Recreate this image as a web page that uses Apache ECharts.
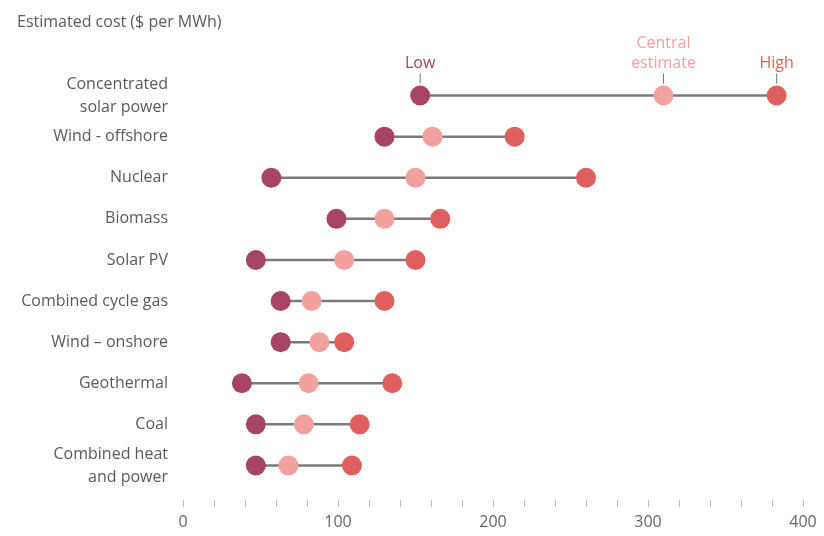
<!DOCTYPE html>
<html><head><meta charset="utf-8">
<script src="https://cdn.jsdelivr.net/npm/echarts@6/dist/echarts.min.js"></script>
<style>html,body{margin:0;padding:0;background:#fff}#c{width:824px;height:536px}</style>
</head><body><div id="c"></div>
<script>
const categories = ["Concentrated\nsolar power","Wind - offshore","Nuclear","Biomass","Solar PV","Combined cycle gas","Wind \u2013 onshore","Geothermal","Coal","Combined heat\nand power"];
const lowValues     = [153, 130, 57, 99, 47, 63, 63, 38, 47, 47];
const centralValues = [310, 161, 150, 130, 104, 83, 88, 81, 78, 68];
const highValues    = [383, 214, 260, 166, 150, 130, 104, 135, 114, 109];
const xTicks = [0, 100, 200, 300, 400];
const seriesNames = ["Low", "Central\nestimate", "High"];
const colors = ["#a84463", "#f2a19f", "#de5f5d"];

const chart = echarts.init(document.getElementById('c'));
const font = '"Open Sans", Lato, sans-serif';

function scatter(name, vals, color) {
  return {
    type: 'scatter', name: name, symbolSize: 20, z: 3,
    itemStyle: { color: color, opacity: 1 },
    data: vals.map((v, i) => [v, categories[i]])
  };
}

chart.setOption({
  animation: false,
  title: { text: 'Estimated cost ($ per MWh)', left: 12, top: 9,
    textStyle: { fontFamily: font, fontSize: 16, fontWeight: 'normal', color: '#5a5a5a' } },
  grid: { left: 183, right: 21, top: 75, bottom: 50 },
  xAxis: {
    type: 'value', min: 0, max: 400, interval: 20, offset: 14,
    axisLine: { show: false },
    axisTick: { show: true, length: 7, lineStyle: { color: '#bbb' } },
    splitLine: { show: false },
    axisLabel: { fontFamily: font, fontSize: 16, color: '#666', margin: 14,
      formatter: v => xTicks.indexOf(v) >= 0 ? String(v) : '' }
  },
  yAxis: {
    type: 'category', data: categories, inverse: true,
    axisLine: { show: false }, axisTick: { show: false },
    axisLabel: { fontFamily: font, fontSize: 16, color: '#5a5a5a', margin: 15, lineHeight: 23 }
  },
  series: [
    {
      type: 'custom', z: 1,
      data: categories.map((c, i) => [lowValues[i], highValues[i], c, centralValues[i]]),
      encode: { x: [0, 1], y: 2 },
      renderItem: function (params, api) {
        const cat = api.value(2);
        const p1 = api.coord([api.value(0), cat]);
        const p2 = api.coord([api.value(1), cat]);
        const children = [{
          type: 'line', shape: { x1: p1[0], y1: p1[1], x2: p2[0], y2: p2[1] },
          style: { stroke: '#7a7a7a', lineWidth: 2.5 }
        }];
        if (params.dataIndex === 0) {
          const pts = [p1, api.coord([api.value(3), cat]), p2];
          pts.forEach((p, k) => {
            children.push({ type: 'line', shape: { x1: p[0], y1: p[1] - 22, x2: p[0], y2: p[1] - 12 },
              style: { stroke: '#777', lineWidth: 1 } });
            children.push({ type: 'text', x: p[0], y: p[1] - 22,
              style: { text: seriesNames[k], fill: colors[k], font: '16px ' + font,
                align: 'center', verticalAlign: 'bottom', lineHeight: 20 } });
          });
        }
        return { type: 'group', children: children };
      }
    },
    scatter('Low', lowValues, colors[0]),
    scatter('Central estimate', centralValues, colors[1]),
    scatter('High', highValues, colors[2])
  ]
});
</script></body></html>
